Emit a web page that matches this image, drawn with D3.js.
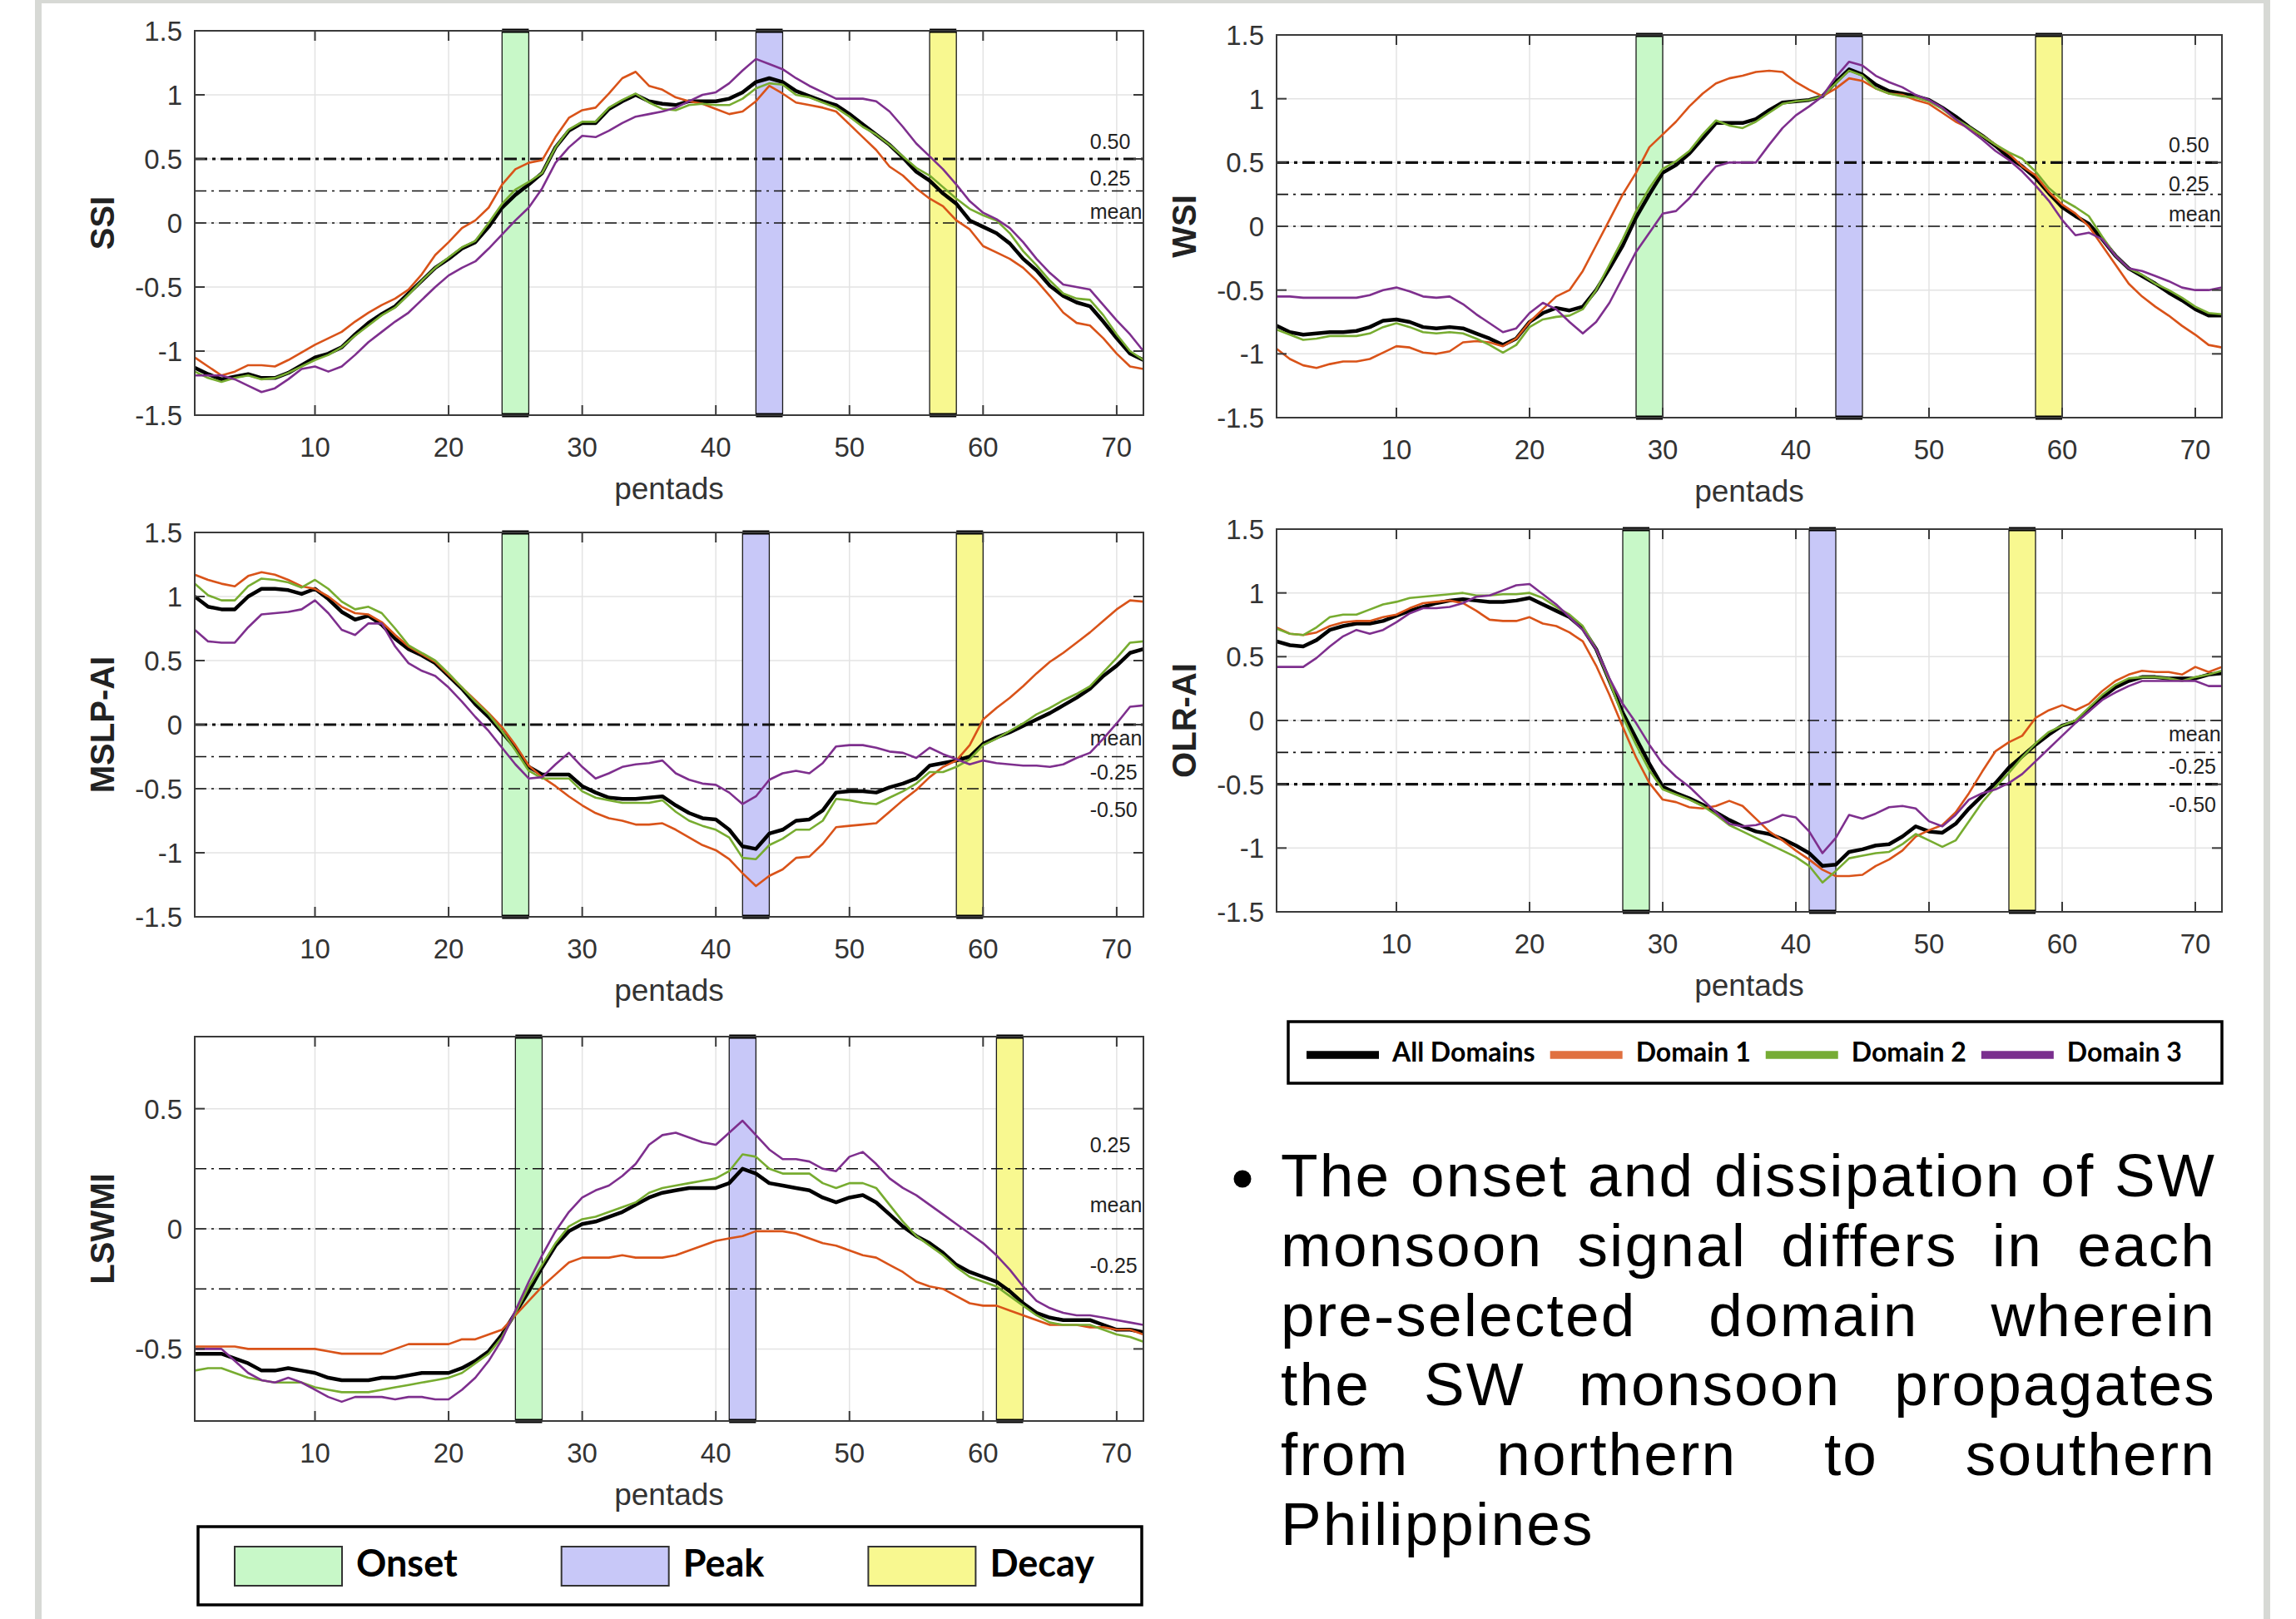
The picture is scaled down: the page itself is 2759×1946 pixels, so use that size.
<!DOCTYPE html>
<html><head><meta charset="utf-8">
<script src="https://cdn.jsdelivr.net/npm/d3@7"></script>
<style>html,body{margin:0;padding:0;background:#fff;} body{position:relative;width:2759px;height:1946px;overflow:hidden;} svg{display:block;position:absolute;left:0;top:0;}</style>
</head><body>
<svg id="chart" width="2759" height="1946"></svg>
<script>
// ---------------- DATA ----------------
const pentads = d3.range(1, 73);
const seriesNames = ["All Domains", "Domain 1", "Domain 2", "Domain 3"];
const phaseNames = ["Onset", "Peak", "Decay"];
const xTickValues = [10, 20, 30, 40, 50, 60, 70];
const yTicksFull = [-1.5, -1, -0.5, 0, 0.5, 1, 1.5];
const yTicksLswmi = [-0.5, 0, 0.5];

// SSI
const ssiAll = [-1.13,-1.18,-1.22,-1.20,-1.18,-1.21,-1.21,-1.17,-1.11,-1.05,
 -1.02,-0.97,-0.87,-0.78,-0.71,-0.65,-0.55,-0.45,-0.35,-0.28,
 -0.20,-0.15,-0.03,0.12,0.22,0.30,0.39,0.59,0.72,0.78,
 0.78,0.89,0.95,1.00,0.95,0.93,0.92,0.95,0.95,0.95,
 0.97,1.02,1.10,1.13,1.10,1.03,0.99,0.95,0.92,0.85,
 0.77,0.69,0.61,0.51,0.40,0.33,0.23,0.15,0.02,-0.03,
 -0.08,-0.16,-0.28,-0.37,-0.49,-0.57,-0.62,-0.65,-0.77,-0.90,
 -1.02,-1.07];
const ssiD1 = [-1.05,-1.12,-1.19,-1.16,-1.11,-1.11,-1.12,-1.07,-1.01,-0.95,
 -0.90,-0.85,-0.77,-0.70,-0.64,-0.59,-0.52,-0.40,-0.25,-0.15,
 -0.04,0.02,0.12,0.30,0.42,0.47,0.49,0.67,0.82,0.88,
 0.90,1.01,1.13,1.18,1.07,1.04,0.98,0.95,0.93,0.89,
 0.85,0.87,0.95,1.07,1.01,0.94,0.92,0.90,0.87,0.77,
 0.67,0.57,0.44,0.37,0.27,0.19,0.13,0.02,-0.05,-0.18,
 -0.23,-0.28,-0.35,-0.45,-0.57,-0.70,-0.78,-0.80,-0.90,-1.02,
 -1.12,-1.14];
const ssiD2 = [-1.16,-1.21,-1.24,-1.21,-1.19,-1.22,-1.21,-1.17,-1.12,-1.07,
 -1.03,-0.97,-0.88,-0.80,-0.72,-0.66,-0.56,-0.45,-0.35,-0.27,
 -0.19,-0.14,0.00,0.15,0.26,0.32,0.39,0.59,0.73,0.79,
 0.79,0.90,0.96,1.01,0.94,0.89,0.88,0.92,0.93,0.92,
 0.92,0.97,1.05,1.09,1.08,1.00,0.98,0.94,0.90,0.83,
 0.75,0.69,0.61,0.52,0.43,0.37,0.28,0.19,0.11,0.06,
 0.02,-0.08,-0.22,-0.33,-0.45,-0.55,-0.59,-0.60,-0.72,-0.87,
 -1.00,-1.07];
const ssiD3 = [-1.19,-1.19,-1.19,-1.22,-1.27,-1.32,-1.29,-1.22,-1.14,-1.12,
 -1.16,-1.12,-1.03,-0.93,-0.85,-0.77,-0.70,-0.60,-0.50,-0.41,
 -0.35,-0.30,-0.20,-0.09,0.02,0.12,0.27,0.47,0.59,0.68,
 0.67,0.72,0.78,0.83,0.85,0.87,0.90,0.95,1.00,1.02,
 1.09,1.19,1.28,1.24,1.20,1.13,1.07,1.02,0.97,0.97,
 0.97,0.95,0.87,0.75,0.62,0.52,0.42,0.30,0.17,0.08,
 0.03,-0.04,-0.15,-0.28,-0.39,-0.48,-0.50,-0.52,-0.64,-0.76,
 -0.87,-1.00];
const ssiPhases = [[24, 26], [43, 45], [56, 58]];
const ssiRefValues = [0.5, 0.25, 0];
const ssiRefLabels = ["0.50", "0.25", "mean"];

// WSI
const wsiAll = [-0.78,-0.83,-0.85,-0.84,-0.83,-0.83,-0.82,-0.79,-0.74,-0.73,
 -0.75,-0.79,-0.80,-0.79,-0.80,-0.84,-0.88,-0.93,-0.88,-0.75,
 -0.68,-0.64,-0.66,-0.63,-0.50,-0.33,-0.15,0.07,0.25,0.42,
 0.48,0.57,0.69,0.81,0.81,0.81,0.84,0.91,0.97,0.98,
 0.99,1.02,1.13,1.23,1.19,1.11,1.06,1.04,1.02,0.99,
 0.93,0.86,0.78,0.71,0.63,0.54,0.47,0.38,0.26,0.15,
 0.08,0.02,-0.10,-0.23,-0.33,-0.39,-0.45,-0.52,-0.58,-0.65,
 -0.70,-0.70];
const wsiD1 = [-0.96,-1.04,-1.09,-1.11,-1.08,-1.06,-1.06,-1.04,-0.99,-0.94,
 -0.95,-0.99,-1.00,-0.98,-0.91,-0.90,-0.91,-0.94,-0.88,-0.75,
 -0.65,-0.55,-0.50,-0.35,-0.15,0.05,0.25,0.42,0.62,0.72,
 0.82,0.94,1.04,1.12,1.16,1.18,1.21,1.22,1.21,1.13,
 1.07,1.02,1.08,1.16,1.14,1.08,1.04,1.03,0.99,0.96,
 0.89,0.82,0.77,0.71,0.64,0.57,0.47,0.40,0.27,0.17,
 0.10,0.00,-0.15,-0.30,-0.45,-0.55,-0.63,-0.70,-0.78,-0.85,
 -0.93,-0.95];
const wsiD2 = [-0.81,-0.85,-0.89,-0.88,-0.86,-0.86,-0.86,-0.84,-0.79,-0.76,
 -0.79,-0.83,-0.84,-0.83,-0.84,-0.88,-0.93,-0.99,-0.93,-0.79,
 -0.73,-0.71,-0.70,-0.65,-0.50,-0.30,-0.10,0.12,0.30,0.45,
 0.51,0.59,0.72,0.83,0.79,0.77,0.82,0.89,0.96,0.98,
 0.99,1.02,1.12,1.22,1.18,1.08,1.04,1.02,1.01,0.98,
 0.92,0.84,0.78,0.71,0.64,0.58,0.53,0.43,0.30,0.21,
 0.15,0.08,-0.08,-0.23,-0.33,-0.38,-0.45,-0.50,-0.56,-0.63,
 -0.68,-0.69];
const wsiD3 = [-0.55,-0.55,-0.56,-0.56,-0.56,-0.56,-0.56,-0.54,-0.50,-0.48,
 -0.51,-0.55,-0.56,-0.55,-0.61,-0.69,-0.76,-0.83,-0.80,-0.68,
 -0.60,-0.65,-0.75,-0.84,-0.75,-0.60,-0.40,-0.20,-0.05,0.10,
 0.12,0.22,0.35,0.47,0.50,0.50,0.50,0.64,0.77,0.87,
 0.94,1.02,1.17,1.29,1.26,1.18,1.13,1.09,1.03,0.99,
 0.93,0.84,0.76,0.68,0.59,0.52,0.43,0.32,0.20,0.05,
 -0.07,-0.05,-0.10,-0.23,-0.33,-0.35,-0.39,-0.43,-0.48,-0.50,
 -0.50,-0.48];
const wsiPhases = [[28, 30], [43, 45], [58, 60]];
const wsiRefValues = [0.5, 0.25, 0];
const wsiRefLabels = ["0.50", "0.25", "mean"];

// MSLP-AI
const mslpAll = [1.00,0.92,0.90,0.90,1.00,1.06,1.06,1.05,1.02,1.06,
 0.98,0.88,0.82,0.85,0.78,0.67,0.59,0.54,0.48,0.38,
 0.28,0.16,0.06,-0.06,-0.18,-0.33,-0.39,-0.39,-0.39,-0.48,
 -0.53,-0.57,-0.58,-0.58,-0.57,-0.56,-0.63,-0.69,-0.73,-0.74,
 -0.82,-0.95,-0.97,-0.85,-0.82,-0.75,-0.74,-0.67,-0.53,-0.52,
 -0.52,-0.53,-0.49,-0.46,-0.42,-0.32,-0.30,-0.28,-0.25,-0.15,
 -0.10,-0.06,-0.01,0.04,0.09,0.15,0.21,0.28,0.38,0.46,
 0.56,0.59];
const mslpD1 = [1.17,1.13,1.10,1.08,1.16,1.19,1.17,1.13,1.08,1.06,
 1.00,0.92,0.87,0.86,0.80,0.70,0.61,0.55,0.49,0.39,
 0.29,0.19,0.09,-0.02,-0.16,-0.32,-0.41,-0.48,-0.56,-0.63,
 -0.69,-0.73,-0.75,-0.78,-0.78,-0.77,-0.82,-0.88,-0.94,-0.98,
 -1.05,-1.16,-1.26,-1.18,-1.13,-1.04,-1.03,-0.93,-0.80,-0.79,
 -0.78,-0.77,-0.68,-0.59,-0.51,-0.41,-0.33,-0.28,-0.16,0.04,
 0.13,0.21,0.30,0.40,0.49,0.56,0.64,0.72,0.81,0.90,
 0.97,0.96];
const mslpD2 = [1.10,1.01,0.97,0.97,1.08,1.14,1.13,1.11,1.07,1.13,
 1.06,0.96,0.90,0.92,0.87,0.75,0.62,0.56,0.50,0.40,
 0.29,0.18,0.08,-0.05,-0.20,-0.36,-0.42,-0.42,-0.42,-0.52,
 -0.57,-0.59,-0.61,-0.61,-0.61,-0.59,-0.68,-0.75,-0.79,-0.82,
 -0.88,-1.04,-1.05,-0.94,-0.89,-0.82,-0.82,-0.75,-0.58,-0.59,
 -0.61,-0.62,-0.57,-0.52,-0.46,-0.37,-0.37,-0.33,-0.27,-0.16,
 -0.11,-0.05,0.01,0.08,0.13,0.19,0.24,0.30,0.41,0.52,
 0.64,0.65];
const mslpD3 = [0.74,0.65,0.64,0.64,0.76,0.86,0.87,0.88,0.90,0.97,
 0.87,0.74,0.70,0.79,0.79,0.61,0.48,0.42,0.38,0.29,
 0.18,0.06,-0.05,-0.18,-0.31,-0.42,-0.41,-0.31,-0.22,-0.33,
 -0.42,-0.38,-0.33,-0.31,-0.30,-0.28,-0.38,-0.43,-0.46,-0.47,
 -0.53,-0.62,-0.56,-0.43,-0.38,-0.36,-0.38,-0.30,-0.17,-0.16,
 -0.16,-0.18,-0.21,-0.22,-0.26,-0.18,-0.23,-0.27,-0.31,-0.28,
 -0.30,-0.31,-0.32,-0.32,-0.33,-0.31,-0.26,-0.22,-0.11,0.01,
 0.14,0.15];
const mslpPhases = [[24, 26], [42, 44], [58, 60]];
const mslpRefValues = [0, -0.25, -0.5];
const mslpRefLabels = ["mean", "-0.25", "-0.50"];

// OLR-AI
const olrAll = [0.62,0.59,0.58,0.63,0.71,0.74,0.76,0.76,0.78,0.82,
 0.86,0.89,0.92,0.94,0.95,0.94,0.93,0.93,0.94,0.96,
 0.91,0.86,0.81,0.72,0.56,0.31,0.06,-0.14,-0.34,-0.52,
 -0.57,-0.61,-0.66,-0.72,-0.78,-0.83,-0.87,-0.89,-0.93,-0.98,
 -1.04,-1.14,-1.13,-1.03,-1.01,-0.98,-0.97,-0.91,-0.83,-0.87,
 -0.88,-0.81,-0.69,-0.59,-0.49,-0.37,-0.28,-0.19,-0.11,-0.04,
 -0.01,0.08,0.18,0.26,0.31,0.34,0.34,0.33,0.33,0.33,
 0.36,0.37];
const olrD1 = [0.73,0.68,0.67,0.69,0.74,0.77,0.78,0.78,0.81,0.83,
 0.88,0.92,0.93,0.94,0.92,0.86,0.79,0.78,0.78,0.81,
 0.76,0.74,0.69,0.62,0.43,0.20,-0.05,-0.29,-0.49,-0.62,
 -0.64,-0.68,-0.69,-0.67,-0.63,-0.67,-0.77,-0.87,-0.94,-1.02,
 -1.09,-1.17,-1.22,-1.22,-1.21,-1.14,-1.09,-1.02,-0.91,-0.86,
 -0.82,-0.72,-0.57,-0.40,-0.24,-0.17,-0.12,0.02,0.08,0.12,
 0.08,0.13,0.23,0.31,0.36,0.39,0.38,0.38,0.36,0.42,
 0.38,0.42];
const olrD2 = [0.72,0.68,0.67,0.73,0.81,0.83,0.83,0.87,0.91,0.93,
 0.96,0.97,0.98,0.99,1.00,0.98,0.98,0.99,0.99,1.00,
 0.96,0.89,0.83,0.74,0.56,0.31,0.03,-0.19,-0.39,-0.54,
 -0.58,-0.62,-0.67,-0.74,-0.82,-0.87,-0.92,-0.97,-1.02,-1.07,
 -1.14,-1.27,-1.18,-1.08,-1.06,-1.04,-1.03,-0.97,-0.89,-0.94,
 -0.99,-0.94,-0.79,-0.64,-0.52,-0.41,-0.29,-0.18,-0.09,-0.04,
 0.00,0.10,0.20,0.28,0.33,0.34,0.34,0.33,0.31,0.34,
 0.36,0.39];
const olrD3 = [0.42,0.42,0.42,0.49,0.58,0.66,0.71,0.68,0.71,0.77,
 0.84,0.88,0.88,0.89,0.92,0.97,0.98,1.02,1.06,1.07,
 0.99,0.91,0.81,0.71,0.56,0.33,0.13,-0.02,-0.19,-0.34,
 -0.44,-0.52,-0.62,-0.72,-0.81,-0.83,-0.82,-0.79,-0.74,-0.76,
 -0.87,-1.04,-0.92,-0.74,-0.77,-0.73,-0.68,-0.67,-0.69,-0.79,
 -0.83,-0.74,-0.62,-0.57,-0.54,-0.49,-0.42,-0.32,-0.22,-0.12,
 -0.02,0.07,0.16,0.22,0.27,0.31,0.31,0.31,0.31,0.31,
 0.27,0.27];
const olrPhases = [[27, 29], [41, 43], [56, 58]];
const olrRefValues = [0, -0.25, -0.5];
const olrRefLabels = ["mean", "-0.25", "-0.50"];

// LSWMI
const lswmiAll = [-0.52,-0.52,-0.52,-0.54,-0.56,-0.59,-0.59,-0.58,-0.59,-0.60,
 -0.62,-0.63,-0.63,-0.63,-0.62,-0.62,-0.61,-0.60,-0.60,-0.60,
 -0.58,-0.55,-0.51,-0.44,-0.35,-0.26,-0.16,-0.07,-0.01,0.02,
 0.03,0.05,0.07,0.10,0.13,0.15,0.16,0.17,0.17,0.17,
 0.19,0.25,0.23,0.19,0.18,0.17,0.16,0.13,0.11,0.13,
 0.14,0.11,0.06,0.01,-0.03,-0.06,-0.10,-0.15,-0.18,-0.20,
 -0.22,-0.26,-0.31,-0.35,-0.37,-0.38,-0.38,-0.38,-0.40,-0.42,
 -0.42,-0.43];
const lswmiD1 = [-0.49,-0.49,-0.49,-0.49,-0.50,-0.50,-0.50,-0.50,-0.50,-0.50,
 -0.51,-0.52,-0.52,-0.52,-0.52,-0.50,-0.48,-0.48,-0.48,-0.48,
 -0.46,-0.46,-0.44,-0.42,-0.36,-0.30,-0.24,-0.19,-0.14,-0.12,
 -0.12,-0.12,-0.11,-0.12,-0.12,-0.12,-0.11,-0.09,-0.07,-0.05,
 -0.04,-0.03,-0.01,-0.01,-0.01,-0.02,-0.04,-0.06,-0.07,-0.09,
 -0.11,-0.12,-0.15,-0.18,-0.22,-0.24,-0.25,-0.28,-0.31,-0.32,
 -0.32,-0.34,-0.36,-0.38,-0.40,-0.40,-0.40,-0.41,-0.41,-0.42,
 -0.42,-0.44];
const lswmiD2 = [-0.59,-0.58,-0.58,-0.60,-0.62,-0.63,-0.64,-0.64,-0.64,-0.66,
 -0.67,-0.68,-0.68,-0.68,-0.67,-0.66,-0.65,-0.64,-0.63,-0.62,
 -0.60,-0.56,-0.52,-0.45,-0.35,-0.24,-0.15,-0.06,0.01,0.04,
 0.05,0.07,0.09,0.11,0.15,0.17,0.18,0.19,0.20,0.21,
 0.24,0.31,0.30,0.25,0.23,0.23,0.23,0.19,0.17,0.19,
 0.19,0.17,0.10,0.03,-0.03,-0.07,-0.11,-0.16,-0.20,-0.22,
 -0.24,-0.28,-0.32,-0.36,-0.39,-0.40,-0.40,-0.40,-0.42,-0.44,
 -0.45,-0.47];
const lswmiD3 = [-0.50,-0.50,-0.50,-0.55,-0.60,-0.63,-0.64,-0.62,-0.64,-0.67,
 -0.70,-0.72,-0.70,-0.70,-0.70,-0.71,-0.70,-0.70,-0.71,-0.71,
 -0.67,-0.62,-0.55,-0.46,-0.34,-0.22,-0.11,-0.01,0.07,0.13,
 0.16,0.18,0.22,0.27,0.35,0.39,0.40,0.38,0.36,0.35,
 0.40,0.45,0.39,0.33,0.29,0.29,0.28,0.25,0.24,0.30,
 0.32,0.27,0.21,0.17,0.14,0.10,0.06,0.02,-0.02,-0.06,
 -0.11,-0.17,-0.24,-0.30,-0.33,-0.35,-0.36,-0.36,-0.37,-0.38,
 -0.39,-0.40];
const lswmiPhases = [[25, 27], [41, 43], [61, 63]];
const lswmiRefValues = [0.25, 0, -0.25];
const lswmiRefLabels = ["0.25", "mean", "-0.25"];

const bodyLines = [
  "The onset and dissipation of SW",
  "monsoon signal differs in each",
  "pre-selected domain wherein",
  "the SW monsoon propagates",
  "from northern to southern",
  "Philippines"
];

// ---------------- STYLE / LAYOUT ----------------
const lineColors = ["#000000", "#D95319", "#77AC30", "#7E2F8E"];
const lineWidths = [4.5, 2.6, 2.6, 2.6];
const legendLineColors = ["#000000", "#E07040", "#76AC34", "#7A2E8E"];
const phaseColors = ["#C8F8C8", "#C8C8F8", "#F8F890"];
const axisFont = "'Liberation Sans', Arial, Helvetica, sans-serif";
const slideFont = "Lato, 'Open Sans', 'Noto Sans', sans-serif";
const bodyFont = "'Liberation Sans', Arial, sans-serif";

const panels = [
  {title: "SSI", series: [ssiAll, ssiD1, ssiD2, ssiD3], phases: ssiPhases,
   refs: ssiRefValues, refLabels: ssiRefLabels, yDomain: [-1.5, 1.5], yTicks: yTicksFull,
   x: 234, y: 37, w: 1140, h: 462, thickRef: 0.5, labelDy: [-12, -7, -5]},
  {title: "WSI", series: [wsiAll, wsiD1, wsiD2, wsiD3], phases: wsiPhases,
   refs: wsiRefValues, refLabels: wsiRefLabels, yDomain: [-1.5, 1.5], yTicks: yTicksFull,
   x: 1534, y: 42, w: 1136, h: 460, thickRef: 0.5, labelDy: [-12, -4, -6]},
  {title: "MSLP-AI", series: [mslpAll, mslpD1, mslpD2, mslpD3], phases: mslpPhases,
   refs: mslpRefValues, refLabels: mslpRefLabels, yDomain: [-1.5, 1.5], yTicks: yTicksFull,
   x: 234, y: 640, w: 1140, h: 462, thickRef: 0, labelDy: [25, 27, 34]},
  {title: "OLR-AI", series: [olrAll, olrD1, olrD2, olrD3], phases: olrPhases,
   refs: olrRefValues, refLabels: olrRefLabels, yDomain: [-1.5, 1.5], yTicks: yTicksFull,
   x: 1534, y: 636, w: 1136, h: 460, thickRef: -0.5, labelDy: [25, 26, 33]},
  {title: "LSWMI", series: [lswmiAll, lswmiD1, lswmiD2, lswmiD3], phases: lswmiPhases,
   refs: lswmiRefValues, refLabels: lswmiRefLabels, yDomain: [-0.8, 0.8], yTicks: yTicksLswmi,
   x: 234, y: 1246, w: 1140, h: 462, thickRef: null, labelDy: [-20, -20, -19]}
];

const svg = d3.select("#chart");
svg.append("rect").attr("width", 2759).attr("height", 1946).attr("fill", "#fff");

// slide frame
const frameColor = "#D7D9D5";
svg.append("rect").attr("x", 42).attr("y", 0).attr("width", 8).attr("height", 1946).attr("fill", frameColor);
svg.append("rect").attr("x", 42).attr("y", 0).attr("width", 2686).attr("height", 4).attr("fill", frameColor);
svg.append("rect").attr("x", 2720).attr("y", 0).attr("width", 8).attr("height", 1946).attr("fill", frameColor);

function drawPanel(p) {
  const g = svg.append("g");
  const x = d3.scaleLinear().domain([1, 72]).range([p.x, p.x + p.w]);
  const y = d3.scaleLinear().domain(p.yDomain).range([p.y + p.h, p.y]);
  const clipId = "clip-" + p.title.replace(/[^A-Za-z]/g, "");
  svg.append("clipPath").attr("id", clipId).append("rect")
    .attr("x", p.x).attr("y", p.y).attr("width", p.w).attr("height", p.h);

  // grid
  g.append("g").selectAll("line").data(xTickValues).join("line")
    .attr("x1", d => x(d)).attr("x2", d => x(d)).attr("y1", p.y).attr("y2", p.y + p.h)
    .attr("stroke", "#E3E3E3").attr("stroke-width", 1.5);
  g.append("g").selectAll("line").data(p.yTicks).join("line")
    .attr("x1", p.x).attr("x2", p.x + p.w).attr("y1", d => y(d)).attr("y2", d => y(d))
    .attr("stroke", "#E3E3E3").attr("stroke-width", 1.5);

  // phase bands
  const bands = g.append("g");
  p.phases.forEach((ph, i) => {
    bands.append("rect").attr("x", x(ph[0])).attr("y", p.y)
      .attr("width", x(ph[1]) - x(ph[0])).attr("height", p.h)
      .attr("fill", phaseColors[i]).attr("stroke", "#1a1a1a").attr("stroke-width", 1.3);
    [p.y, p.y + p.h].forEach(yy => {
      bands.append("line").attr("x1", x(ph[0])).attr("x2", x(ph[1]))
        .attr("y1", yy).attr("y2", yy).attr("stroke", "#000").attr("stroke-width", 5);
    });
  });

  // reference lines
  p.refs.forEach((v, i) => {
    const thick = p.thickRef !== null && v === p.thickRef;
    g.append("line").attr("x1", p.x).attr("x2", p.x + p.w).attr("y1", y(v)).attr("y2", y(v))
      .attr("stroke", "#111").attr("stroke-width", thick ? 3.2 : 1.6)
      .attr("stroke-dasharray", thick ? "15,6,4,6" : "14,6,3,6");
    g.append("text").attr("x", x(68)).attr("y", y(v) + p.labelDy[i])
      .attr("font-family", axisFont).attr("font-size", 25).attr("fill", "#222")
      .text(p.refLabels[i]);
  });

  // data lines
  const line = d3.line().x((d, i) => x(pentads[i])).y(d => y(d)).curve(d3.curveLinear);
  const lg = g.append("g").attr("clip-path", `url(#${clipId})`);
  p.series.forEach((s, k) => {
    lg.append("path").datum(s).attr("d", line).attr("fill", "none")
      .attr("stroke", lineColors[k]).attr("stroke-width", lineWidths[k])
      .attr("stroke-linejoin", "round");
  });

  // box
  const axCol = "#3A3A3A";
  g.append("rect").attr("x", p.x).attr("y", p.y).attr("width", p.w).attr("height", p.h)
    .attr("fill", "none").attr("stroke", axCol).attr("stroke-width", 2);

  // ticks (inward)
  const tl = 12;
  p.yTicks.forEach(v => {
    g.append("line").attr("x1", p.x).attr("x2", p.x + tl).attr("y1", y(v)).attr("y2", y(v)).attr("stroke", axCol).attr("stroke-width", 2);
    g.append("line").attr("x1", p.x + p.w - tl).attr("x2", p.x + p.w).attr("y1", y(v)).attr("y2", y(v)).attr("stroke", axCol).attr("stroke-width", 2);
  });
  xTickValues.forEach(v => {
    g.append("line").attr("x1", x(v)).attr("x2", x(v)).attr("y1", p.y + p.h).attr("y2", p.y + p.h - tl).attr("stroke", axCol).attr("stroke-width", 2);
    g.append("line").attr("x1", x(v)).attr("x2", x(v)).attr("y1", p.y).attr("y2", p.y + tl).attr("stroke", axCol).attr("stroke-width", 2);
  });

  // tick labels
  g.append("g").selectAll("text").data(p.yTicks).join("text")
    .attr("x", p.x - 15).attr("y", d => y(d)).attr("dy", "0.36em")
    .attr("text-anchor", "end").attr("font-family", axisFont).attr("font-size", 33)
    .attr("fill", "#333").text(d => String(d));
  g.append("g").selectAll("text").data(xTickValues).join("text")
    .attr("x", d => x(d)).attr("y", p.y + p.h + 50)
    .attr("text-anchor", "middle").attr("font-family", axisFont).attr("font-size", 33)
    .attr("fill", "#333").text(d => String(d));

  // axis labels
  g.append("text").attr("x", p.x + p.w / 2).attr("y", p.y + p.h + 101)
    .attr("text-anchor", "middle").attr("font-family", axisFont).attr("font-size", 37)
    .attr("fill", "#333").text("pentads");
  g.append("text").attr("transform", `translate(${p.x - 97},${p.y + p.h / 2}) rotate(-90)`)
    .attr("text-anchor", "middle").attr("font-family", axisFont).attr("font-size", 40)
    .attr("font-weight", "bold").attr("fill", "#222").text(p.title);
}
panels.forEach(drawPanel);

// ---------------- domain legend ----------------
(function () {
  const lg = svg.append("g");
  lg.append("rect").attr("x", 1548).attr("y", 1228).attr("width", 1122).attr("height", 74)
    .attr("fill", "#fff").attr("stroke", "#000").attr("stroke-width", 3.5);
  let cx = 1570;
  seriesNames.forEach((name, i) => {
    lg.append("line").attr("x1", cx).attr("x2", cx + 87).attr("y1", 1268).attr("y2", 1268)
      .attr("stroke", legendLineColors[i]).attr("stroke-width", 9.5);
    const t = lg.append("text").attr("x", cx + 103).attr("y", 1276)
      .attr("font-family", slideFont).attr("font-weight", "bold").attr("font-size", 32)
      .attr("fill", "#000").text(name);
    cx = cx + 103 + t.node().getComputedTextLength() + 18;
  });
})();

// ---------------- phase legend ----------------
(function () {
  const lg = svg.append("g");
  lg.append("rect").attr("x", 238).attr("y", 1835).attr("width", 1134).attr("height", 94)
    .attr("fill", "#fff").attr("stroke", "#000").attr("stroke-width", 3.5);
  let cx = 282;
  phaseNames.forEach((name, i) => {
    lg.append("rect").attr("x", cx).attr("y", 1859).attr("width", 129).attr("height", 47)
      .attr("fill", phaseColors[i]).attr("stroke", "#333").attr("stroke-width", 2);
    const t = lg.append("text").attr("x", cx + 146).attr("y", 1895)
      .attr("font-family", slideFont).attr("font-weight", "bold").attr("font-size", 45)
      .attr("fill", "#000").text(name);
    cx = cx + 146 + t.node().getComputedTextLength() + 125;
  });
})();

// ---------------- bullet text: one justified HTML paragraph ----------------
(function () {
  const left = 1539, width = 1124, firstBaseline = 1438, lh = 83.9;
  // font size chosen so that the font's content box (1.117em) stays inside the line pitch
  const fs = 73;
  const probe = d3.select("body").append("span")
    .style("position", "absolute").style("left", "-9999px").style("top", "0")
    .style("white-space", "nowrap").style("font-family", bodyFont).style("font-size", fs + "px")
    .text(bodyLines[0]);
  const w0 = probe.node().getBoundingClientRect().width;
  probe.remove();
  const ls = Math.max(0, (width * 0.994 - w0) / bodyLines[0].length);
  // Liberation Sans metrics: ascent 0.905, descent 0.212
  const baselineInLine = (lh - 1.117 * fs) / 2 + 0.905 * fs;
  const para = d3.select("body").append("div")
    .style("position", "absolute").style("left", left + "px")
    .style("top", (firstBaseline - baselineInLine) + "px")
    .style("width", width + "px")
    .style("font-family", bodyFont).style("font-size", fs + "px")
    .style("letter-spacing", ls + "px")
    .style("line-height", lh + "px").style("color", "#000")
    .style("text-align", "justify").style("margin", "0");
  para.html(bodyLines.map((l, i) => i < bodyLines.length - 1
      ? `<span style="display:block;text-align:justify;text-align-last:justify;height:${lh}px">${l}</span>`
      : `<span style="display:block;text-align:left;height:${lh}px">${l}</span>`).join(""));
  svg.append("circle").attr("cx", 1493).attr("cy", 1417).attr("r", 10.5).attr("fill", "#000");
})();
</script>
</body></html>
